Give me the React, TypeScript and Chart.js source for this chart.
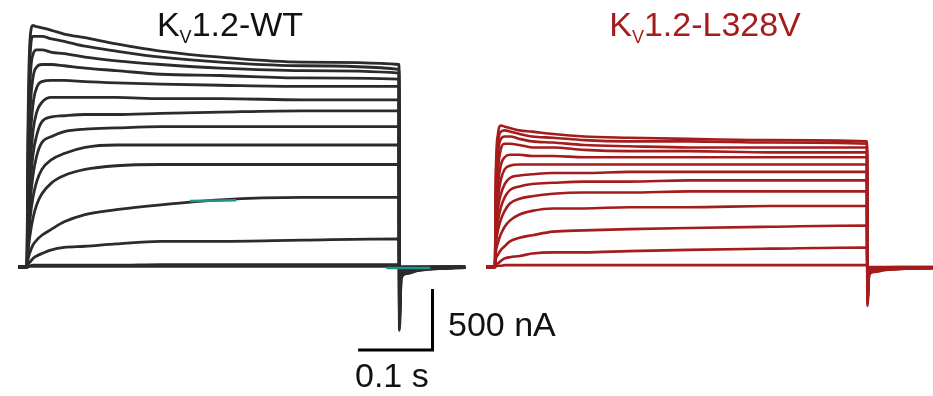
import React, { useEffect, useRef } from "react";
import { Chart, registerables } from "chart.js";

Chart.register(...registerables);

// time points (s) within the 0.5 s voltage step
const PULSE_TIME = [0, 0.001, 0.004, 0.008, 0.013, 0.02, 0.033, 0.05, 0.078, 0.12, 0.18, 0.26, 0.37, 0.5];
// time points (s) after the step (tail currents)
const TAIL_TIME = [0.5005, 0.503, 0.51, 0.525, 0.55, 0.589];
const PRE_TIME = -0.012;
const MUT_OFFSET = 0.629; // second panel starts later on the shared time axis

// Kv1.2-WT currents (nA) during the step
const WT_PULSE = [
  [0, 960, 1860, 1980, 1970, 1960, 1940, 1910, 1880, 1830, 1770, 1720, 1680, 1660],
  [0, 800, 1700, 1890, 1890, 1890, 1870, 1850, 1810, 1770, 1720, 1680, 1650, 1620],
  [0, 630, 1490, 1740, 1780, 1780, 1760, 1750, 1720, 1690, 1660, 1630, 1610, 1590],
  [0, 510, 1250, 1550, 1640, 1660, 1660, 1650, 1630, 1610, 1580, 1570, 1550, 1540],
  [0, 390, 1000, 1330, 1470, 1520, 1530, 1530, 1520, 1510, 1500, 1490, 1480, 1480],
  [0, 300, 800, 1110, 1270, 1350, 1390, 1390, 1390, 1390, 1380, 1380, 1370, 1370],
  [0, 240, 630, 920, 1080, 1190, 1230, 1240, 1250, 1250, 1260, 1270, 1280, 1280],
  [0, 190, 510, 750, 910, 1020, 1070, 1110, 1130, 1140, 1150, 1150, 1150, 1150],
  [0, 140, 390, 570, 700, 800, 880, 930, 980, 1000, 1000, 1000, 1000, 1000],
  [0, 100, 260, 400, 510, 600, 690, 750, 800, 830, 840, 840, 840, 840],
  [0, 50, 120, 180, 220, 260, 310, 370, 430, 470, 510, 550, 570, 570],
  [0, 20, 40, 70, 90, 110, 140, 160, 170, 190, 210, 210, 220, 230],
  [0, 5, 10, 15, 15, 15, 15, 15, 15, 15, 20, 20, 20, 20],
  [0, 0, 5, 5, 5, 5, 5, 5, 5, 5, 5, 5, 5, 5],
];
const WT_TAIL = [
  [-520, -90, -55, -30, -15, -5],
  [-470, -80, -50, -27, -13, -5],
  [-420, -70, -45, -25, -12, -4],
  [-370, -62, -40, -22, -11, -4],
  [-320, -55, -35, -19, -9, -3],
  [-270, -45, -29, -16, -8, -3],
  [-220, -37, -24, -13, -6, -2],
  [-170, -29, -18, -10, -5, -2],
  [-120, -20, -13, -7, -4, -1],
  [-80, -14, -9, -5, -2, -1],
  [-45, -8, -5, -3, -1, 0],
  [-20, -4, -2, -1, 0, 0],
  [0, 0, 0, 0, 0, 0],
  [0, 0, 0, 0, 0, 0],
];

// Kv1.2-L328V currents (nA) during the step
const MUT_PULSE = [
  [0, 720, 1090, 1160, 1150, 1140, 1120, 1110, 1090, 1070, 1060, 1050, 1040, 1030],
  [0, 640, 1010, 1110, 1120, 1110, 1090, 1070, 1060, 1040, 1030, 1030, 1020, 1010],
  [0, 560, 930, 1050, 1070, 1070, 1050, 1030, 1020, 1000, 990, 980, 980, 980],
  [0, 480, 800, 970, 1010, 1010, 1000, 980, 980, 960, 950, 950, 940, 940],
  [0, 390, 680, 840, 900, 920, 920, 910, 910, 900, 900, 900, 900, 900],
  [0, 330, 570, 720, 800, 830, 840, 840, 840, 840, 840, 840, 840, 840],
  [0, 260, 480, 600, 680, 730, 750, 760, 770, 770, 780, 780, 780, 780],
  [0, 210, 380, 490, 570, 630, 660, 680, 690, 700, 700, 710, 710, 710],
  [0, 160, 300, 390, 460, 520, 560, 580, 600, 610, 610, 620, 620, 620],
  [0, 110, 200, 270, 330, 380, 430, 460, 480, 480, 490, 490, 500, 500],
  [0, 60, 100, 140, 170, 210, 240, 260, 290, 300, 310, 320, 330, 340],
  [0, 20, 30, 50, 70, 80, 90, 110, 120, 120, 130, 140, 150, 160],
  [0, 5, 10, 10, 15, 15, 15, 15, 15, 15, 15, 15, 15, 15],
];
const MUT_TAIL = [
  [-320, -60, -40, -25, -15, -10],
  [-300, -55, -37, -23, -14, -9],
  [-280, -50, -34, -21, -13, -8],
  [-260, -46, -31, -19, -12, -8],
  [-240, -42, -28, -17, -11, -7],
  [-220, -38, -25, -15, -10, -6],
  [-190, -34, -22, -13, -9, -5],
  [-160, -29, -19, -11, -7, -4],
  [-130, -24, -16, -9, -6, -4],
  [-100, -18, -12, -7, -5, -3],
  [-60, -11, -7, -4, -3, -2],
  [-30, -6, -4, -2, -1, -1],
  [0, 0, 0, 0, 0, 0],
];

// small teal-coloured stretches visible in the WT panel
const TEAL_TIME_A = [0.219, 0.281];
const TEAL_VALUE_A = [540, 548];
const TEAL_TIME_B = [0.483, 0.542];
const TEAL_VALUE_B = [-8, -8];

// scale bar: 500 nA by 0.1 s
const SCALE_CURRENT = 500;
const SCALE_TIME = 0.1;
const SCALE_CORNER_TIME = 0.545;
const SCALE_TOP_CURRENT = -180;

const WT_COLOR = "#2b2b2b";
const MUT_COLOR = "#a51c1c";
const TEAL = "#1f8f8f";

const FONT = '"Liberation Sans", Arial, Helvetica, sans-serif';

export default function App() {
  const canvasRef = useRef<HTMLCanvasElement | null>(null);

  useEffect(() => {
    const canvas = canvasRef.current;
    if (!canvas) return;

    const trace = (pulse: number[], tail: number[], offset: number, color: string, width: number) => ({
      data: [
        { x: offset + PRE_TIME, y: 0 },
        ...PULSE_TIME.map((t, i) => ({ x: offset + t, y: pulse[i] })),
        ...TAIL_TIME.map((t, i) => ({ x: offset + t, y: tail[i] })),
      ],
      borderColor: color,
      borderWidth: width,
      pointRadius: 0,
      fill: false,
      cubicInterpolationMode: "monotone" as const,
    });

    const datasets: any[] = [];
    datasets.push({
      data: TEAL_TIME_A.map((t, i) => ({ x: t, y: TEAL_VALUE_A[i] })),
      borderColor: TEAL, borderWidth: 2.5, pointRadius: 0, tension: 0,
    });
    datasets.push({
      data: TEAL_TIME_B.map((t, i) => ({ x: t, y: TEAL_VALUE_B[i] })),
      borderColor: TEAL, borderWidth: 2.5, pointRadius: 0, tension: 0,
    });
    datasets.push({
      data: [
        { x: SCALE_CORNER_TIME, y: SCALE_TOP_CURRENT },
        { x: SCALE_CORNER_TIME, y: SCALE_TOP_CURRENT - SCALE_CURRENT },
        { x: SCALE_CORNER_TIME - SCALE_TIME, y: SCALE_TOP_CURRENT - SCALE_CURRENT },
      ],
      borderColor: "#000",
      borderWidth: 3,
      pointRadius: 0,
      tension: 0,
      borderCapStyle: "butt",
      borderJoinStyle: "miter",
    });
    WT_PULSE.forEach((p, i) => datasets.push(trace(p, WT_TAIL[i], 0, WT_COLOR, 2.8)));
    MUT_PULSE.forEach((p, i) => datasets.push(trace(p, MUT_TAIL[i], MUT_OFFSET, MUT_COLOR, 2.6)));

    const chart = new Chart(canvas, {
      type: "line",
      data: { datasets },
      options: {
        animation: false,
        responsive: false,
        events: [],
        layout: { padding: 0 },
        plugins: { legend: { display: false }, tooltip: { enabled: false } },
        scales: {
          x: { type: "linear", min: -0.0363, max: 1.2177, display: false },
          y: { type: "linear", min: -1058, max: 2189, display: false },
        },
      },
    });
    return () => chart.destroy();
  }, []);

  const textBase: React.CSSProperties = {
    position: "absolute",
    fontFamily: FONT,
    fontSize: 34,
    lineHeight: "34px",
    whiteSpace: "nowrap",
  };

  return (
    <div style={{ position: "absolute", left: 0, top: 0, width: 933, height: 396, background: "#fff", overflow: "hidden" }}>
      <canvas ref={canvasRef} width={933} height={396} style={{ position: "absolute", left: 0, top: 0, width: 933, height: 396 }} />
      <div style={{ ...textBase, left: 0, width: 460, top: 7, textAlign: "center", color: "#111" }}>
        K<span style={{ fontSize: 18, position: "relative", top: 7 }}>V</span>1.2-WT
      </div>
      <div style={{ ...textBase, left: 505, width: 400, top: 7, textAlign: "center", color: MUT_COLOR }}>
        K<span style={{ fontSize: 18, position: "relative", top: 7 }}>V</span>1.2-L328V
      </div>
      <div style={{ ...textBase, left: 448, top: 307, color: "#111" }}>500 nA</div>
      <div style={{ ...textBase, left: 355, top: 358, color: "#111" }}>0.1 s</div>
    </div>
  );
}
